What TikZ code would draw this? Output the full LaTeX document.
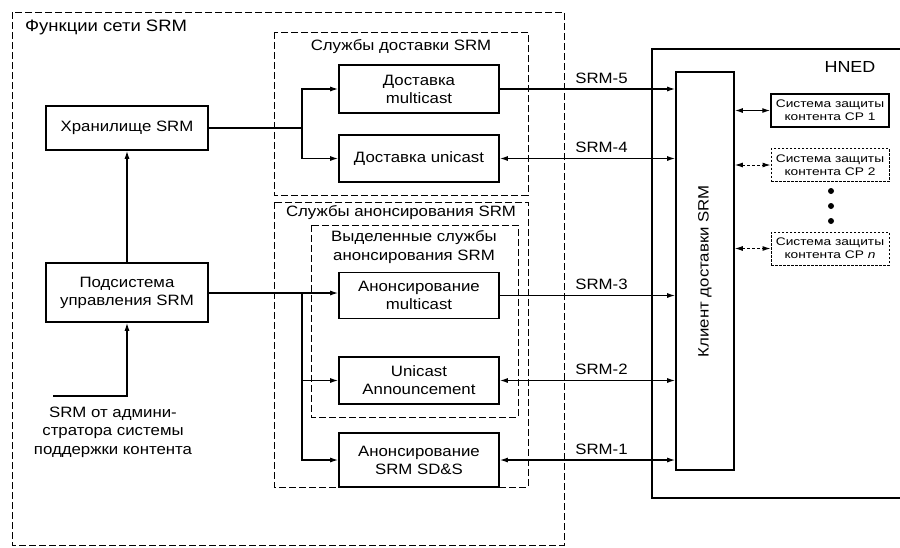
\documentclass[tikz,border=0pt]{standalone}
\usepackage{fontspec}
\setmainfont{Liberation Sans}[FakeStretch=1.12]
\newfontfamily\cpf{Liberation Sans}[FakeStretch=1.25]
\usetikzlibrary{arrows.meta}
\tikzset{
  box/.style={draw, line width=1.6pt, align=center, inner sep=1pt, font=\fontsize{15}{18}\selectfont},
  cpbox/.style={draw, line width=1.4pt, align=center, inner sep=1pt, minimum width=118pt, minimum height=33pt, font=\cpf\fontsize{11}{13}\selectfont},
  cpdash/.style={cpbox, dash pattern=on 2.5pt off 1.5pt, line width=1pt},
  grp/.style={draw, dash pattern=on 7pt off 3pt, line width=0.8pt},
  conn/.style={line width=1.3pt},
  arr/.style={conn, -{Latex[length=8pt,width=5pt]}},
  darr/.style={conn, {Latex[length=8pt,width=5pt]}-{Latex[length=8pt,width=5pt]}},
  lbl/.style={font=\fontsize{15}{18}\selectfont, inner sep=0pt},
  ttl/.style={font=\fontsize{15}{19}\selectfont, inner sep=0pt, align=center},
}
\begin{document}
\begin{tikzpicture}[x=1pt,y=-1pt]
\useasboundingbox (0,0) rectangle (900,547);
\fill[white] (0,0) rectangle (900,547);
% groups
\draw[grp] (12,12) rectangle (564,545);
\node[ttl, anchor=west, font=\fontsize{16.5}{19}\selectfont] (tf) at (25,27) {Функции сети SRM};
\draw[grp] (274,32) rectangle (528,195);
\node[ttl] (td) at (401,47) {Службы доставки SRM};
\draw[grp] (274,202) rectangle (528,487);
\node[ttl] (ta) at (401,213) {Службы анонсирования SRM};
\draw[grp] (311,225) rectangle (518,417);
\node[ttl] (tv) at (414,247) {Выделенные службы\\анонсирования SRM};
% HNED
\draw[line width=1.6pt] (905,49) -- (652,49) -- (652,498) -- (905,498);
\node[ttl, font=\fontsize{16}{19}\selectfont] (th) at (850,67) {HNED};
% boxes
\node[box, minimum width=162pt, minimum height=44pt] (stor) at (127,128) {Хранилище SRM};
\node[box, minimum width=162pt, minimum height=59pt] (mgmt) at (127,292.5) {Подсистема\\управления SRM};
\node[box, minimum width=160pt, minimum height=48pt] (dmc) at (419,89) {Доставка\\multicast};
\node[box, minimum width=160pt, minimum height=47pt] (duc) at (419,158.5) {Доставка unicast};
\node[box, minimum width=160pt, minimum height=46pt] (amc) at (419,295.5) {Анонсирование\\multicast};
\node[box, minimum width=160pt, minimum height=47pt] (auc) at (419,380.5) {Unicast\\Announcement};
\node[box, minimum width=160pt, minimum height=54pt] (asd) at (419,460) {Анонсирование\\SRM SD\&S};
\node[box, minimum width=58pt, minimum height=398pt] (cli) at (705,271) {\rotatebox{90}{Клиент доставки SRM}};
\node[cpbox] (cp1) at (830,110.5) {Система защиты\\контента CP 1};
\node[cpdash] (cp2) at (830,165) {Система защиты\\контента CP 2};
\node[cpdash] (cpn) at (830,248.5) {Система защиты\\контента CP \textit{n}};
\fill (831,191) circle (3pt) (831,206) circle (3pt) (831,221) circle (3pt);
% admin input
\coordinate (adm) at (53,396);
\node[ttl, font=\fontsize{15}{18.5}\selectfont] (tadm) at (113,432) {SRM от админи-\\стратора системы\\поддержки контента};
\draw[arr] (adm) -- (127,396) -- (mgmt.south);
\draw[arr] (mgmt.north) -- (stor.south);
% storage to delivery
\coordinate (sj) at (302,128);
\draw[conn] (stor.east) -- (sj);
\draw[arr] (sj) |- (dmc.west);
\draw[arr] (sj) |- (duc.west);
% management to announcement
\coordinate (mj) at (302,293);
\draw[arr] (mgmt.east |- mj) -- (amc.west |- mj);
\draw[arr] (mj) |- (auc.west);
\draw[arr] (mj) |- (asd.west);
% SRM interfaces
\draw[arr] (dmc.east) -- (cli.west |- dmc.east) node[lbl, pos=0.58, above=5pt] {SRM-5};
\draw[darr] (duc.east) -- (cli.west |- duc.east) node[lbl, pos=0.58, above=5pt] {SRM-4};
\draw[arr] (amc.east) -- (cli.west |- amc.east) node[lbl, pos=0.58, above=5pt] {SRM-3};
\draw[darr] (auc.east) -- (cli.west |- auc.east) node[lbl, pos=0.58, above=5pt] {SRM-2};
\draw[darr] (asd.east) -- (cli.west |- asd.east) node[lbl, pos=0.58, above=5pt] {SRM-1};
% client to CP
\draw[darr] (cli.east |- cp1.west) -- (cp1.west);
\draw[darr, dash pattern=on 3pt off 2pt, line width=1pt] (cli.east |- cp2.west) -- (cp2.west);
\draw[darr, dash pattern=on 3pt off 2pt, line width=1pt] (cli.east |- cpn.west) -- (cpn.west);
\end{tikzpicture}
\end{document}
